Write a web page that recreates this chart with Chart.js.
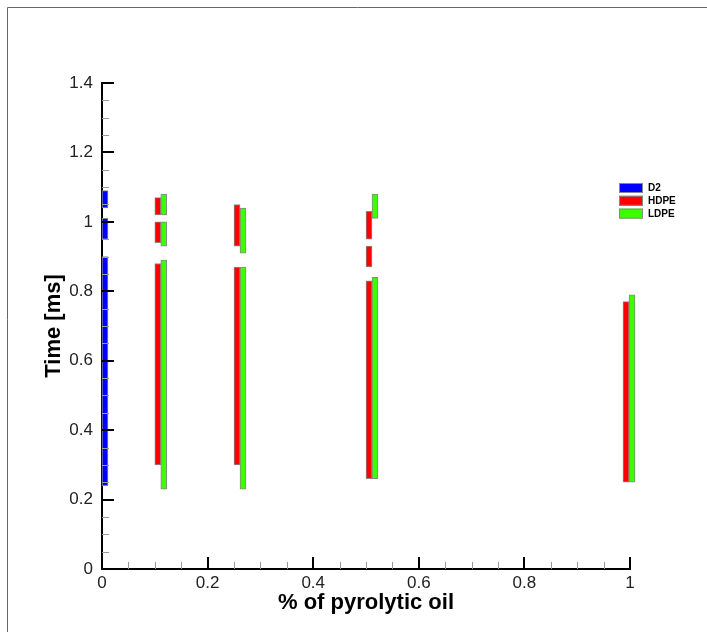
<!DOCTYPE html>
<html>
<head>
<meta charset="utf-8">
<script src="https://cdn.jsdelivr.net/npm/chart.js@4.4.1/dist/chart.umd.min.js"></script>
<style>
  html, body { margin: 0; padding: 0; background: #fff; overflow: hidden; }
  canvas { display: block; }
</style>
</head>
<body>
<canvas id="chart" width="707" height="632"></canvas>
<script>
// series data: each bar is one [low, high] time interval at a given oil fraction
const seriesNames = ['D2', 'HDPE', 'LDPE'];
const seriesColors = ['#0000ff', '#ff0000', '#3cff00'];

const d2X = [0, 0, 0];
const d2Low = [0.24, 0.95, 1.04];
const d2High = [0.90, 1.01, 1.09];

const hdpeX = [0.1, 0.1, 0.1, 0.25, 0.25, 0.5, 0.5, 0.5, 1];
const hdpeLow = [0.30, 0.94, 1.02, 0.30, 0.93, 0.26, 0.87, 0.95, 0.25];
const hdpeHigh = [0.88, 1.00, 1.07, 0.87, 1.05, 0.83, 0.93, 1.03, 0.77];

const ldpeX = [0.1, 0.1, 0.1, 0.25, 0.25, 0.5, 0.5, 1];
const ldpeLow = [0.23, 0.93, 1.02, 0.23, 0.91, 0.26, 1.01, 0.25];
const ldpeHigh = [0.89, 1.00, 1.08, 0.87, 1.04, 0.84, 1.08, 0.79];

// axis ranges
const xMin = 0, xMax = 1, xStep = 0.2;
const yMin = 0, yMax = 1.4, yStep = 0.2;
const minorStep = 0.05;

const FONT = "'Liberation Sans', Arial, sans-serif";

function toPoints(xs, lows, highs) {
    return xs.map((x, i) => ({ x: x, y: [lows[i], highs[i]] }));
}

function fmt(v) {
    return String(Number(v.toFixed(2)));
}

// pixel offset of each series from its x position (bars sit side by side to the right)
const barShift = [3, 3, 9];

const shiftBars = {
    id: 'shiftBars',
    afterDatasetsUpdate(chart) {
        const xs = chart.scales.x;
        const right = chart.chartArea.right;
        chart.data.datasets.forEach((ds, di) => {
            const meta = chart.getDatasetMeta(di);
            meta.data.forEach((el, i) => {
                const px = xs.getPixelForValue(ds.data[i].x);
                // keep group from running past the right edge
                let shift = 0;
                if (px + 12 > right + 5) shift = right + 5 - (px + 12);
                el.x = px + barShift[di] + shift;
            });
        });
    }
};

// frame, inward ticks and legend
const decorations = {
    id: 'decorations',
    beforeDraw(chart) {
        const ctx = chart.ctx;
        ctx.save();
        ctx.strokeStyle = '#666';
        ctx.lineWidth = 1;
        ctx.beginPath();
        ctx.moveTo(7.5, 632);
        ctx.lineTo(7.5, 7.5);
        ctx.lineTo(707, 7.5);
        ctx.stroke();
        ctx.restore();
    },
    afterDatasetsDraw(chart) {
        const { ctx, chartArea: a, scales: { x, y } } = chart;
        ctx.save();
        // y ticks
        const nY = Math.round((yMax - yMin) / minorStep);
        for (let i = 0; i <= nY; i++) {
            const v = yMin + i * minorStep;
            const py = Math.round(y.getPixelForValue(v));
            const major = i % 4 === 0;
            ctx.beginPath();
            ctx.strokeStyle = major ? '#000' : '#999';
            ctx.lineWidth = major ? 2 : 1;
            const off = major ? 0 : 0.5;
            ctx.moveTo(a.left, py + off);
            ctx.lineTo(a.left + (major ? 12 : 7), py + off);
            ctx.stroke();
        }
        // x ticks
        const nX = Math.round((xMax - xMin) / minorStep);
        for (let i = 0; i <= nX; i++) {
            const v = xMin + i * minorStep;
            const px = Math.round(x.getPixelForValue(v));
            const major = i % 4 === 0;
            ctx.beginPath();
            ctx.strokeStyle = major ? '#000' : '#999';
            ctx.lineWidth = major ? 2 : 1;
            const off = major ? 0 : 0.5;
            ctx.moveTo(px + off, a.bottom);
            ctx.lineTo(px + off, a.bottom - (major ? 12 : 7));
            ctx.stroke();
        }
        // legend
        const lx = 619, ly = 183, rowH = 12.8;
        ctx.font = 'bold 10px ' + FONT;
        ctx.textBaseline = 'middle';
        ctx.textAlign = 'left';
        seriesNames.forEach((name, i) => {
            const top = ly + i * rowH;
            ctx.fillStyle = seriesColors[i];
            ctx.fillRect(lx, top, 24, 10);
            ctx.strokeStyle = '#888';
            ctx.lineWidth = 1;
            ctx.strokeRect(lx + 0.5, top + 0.5, 23, 9);
            ctx.fillStyle = '#000';
            ctx.fillText(name, lx + 29, top + 5.5);
        });
        ctx.restore();
    }
};

const ctx = document.getElementById('chart').getContext('2d');
const chart = new Chart(ctx, {
    type: 'bar',
    data: {
        datasets: [
            { label: seriesNames[0], data: toPoints(d2X, d2Low, d2High) },
            { label: seriesNames[1], data: toPoints(hdpeX, hdpeLow, hdpeHigh) },
            { label: seriesNames[2], data: toPoints(ldpeX, ldpeLow, ldpeHigh) }
        ].map((ds, i) => Object.assign(ds, {
            backgroundColor: seriesColors[i],
            borderColor: '#888',
            borderWidth: 1,
            borderSkipped: false,
            barThickness: 6,
            grouped: false,
            clip: false
        }))
    },
    options: {
        responsive: false,
        animation: false,
        events: [],
        layout: { padding: { left: 0, top: 83, right: 77, bottom: 0 } },
        plugins: {
            legend: { display: false },
            tooltip: { enabled: false }
        },
        scales: {
            x: {
                type: 'linear',
                min: xMin,
                max: xMax,
                offset: false,
                grid: { display: false, drawTicks: false },
                border: { display: true, color: '#000', width: 2 },
                ticks: {
                    stepSize: xStep,
                    padding: 4,
                    color: '#222',
                    maxRotation: 0,
                    font: { family: FONT, size: 17 },
                    callback: (v) => fmt(v)
                },
                title: {
                    display: true,
                    text: '% of pyrolytic oil',
                    color: '#000',
                    font: { family: FONT, size: 22, weight: 'bold' },
                    padding: { top: 0, bottom: 16 }
                },
                afterFit: (s) => { s.height = 63; }
            },
            y: {
                min: yMin,
                max: yMax,
                stacked: false,
                grid: { display: false, drawTicks: false },
                border: { display: true, color: '#000', width: 2 },
                ticks: {
                    stepSize: yStep,
                    padding: 9,
                    color: '#222',
                    font: { family: FONT, size: 17 },
                    callback: (v) => fmt(v)
                },
                title: {
                    display: true,
                    text: 'Time [ms]',
                    color: '#000',
                    font: { family: FONT, size: 22, weight: 'bold' },
                    padding: { top: 41, bottom: 0 }
                },
                afterFit: (s) => { s.width = 102; }
            }
        }
    },
    plugins: [shiftBars, decorations]
});
</script>
</body>
</html>
